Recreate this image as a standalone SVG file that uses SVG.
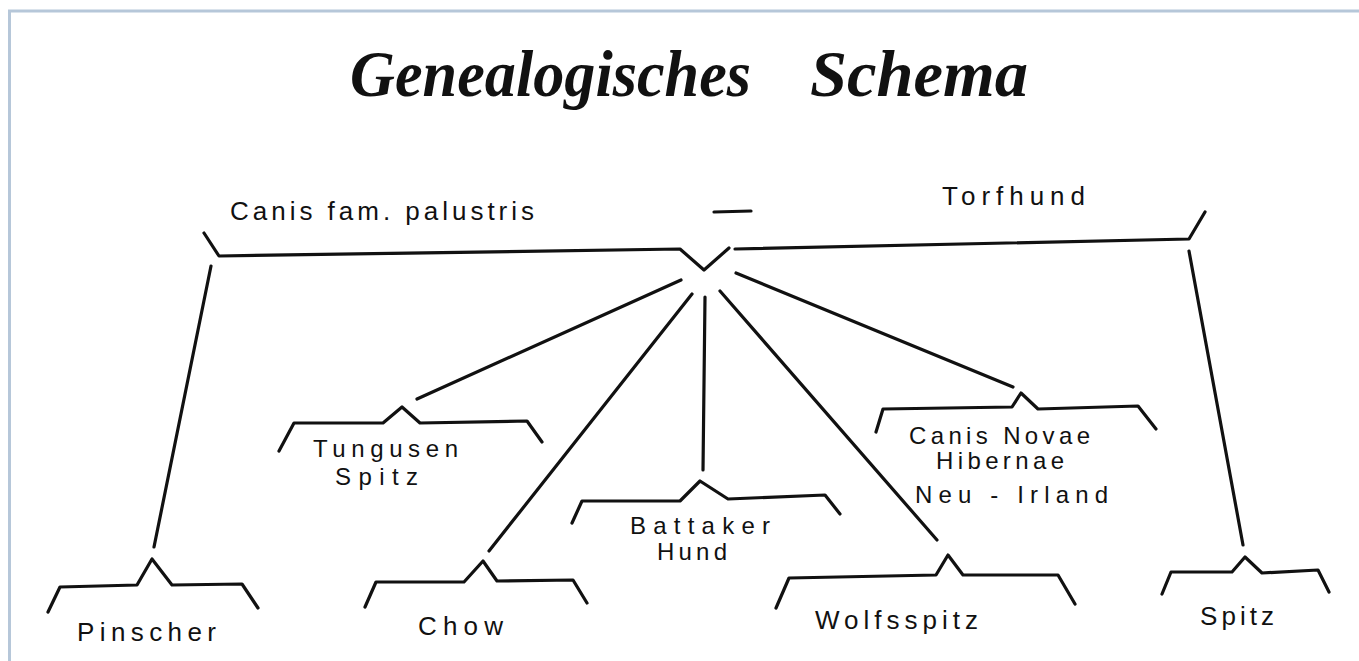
<svg xmlns="http://www.w3.org/2000/svg" width="1359" height="661" viewBox="0 0 1359 661">
<style>
.bg{fill:#ffffff}
.frame{fill:none;stroke:#b6c7d9;stroke-width:3}
.ln{fill:none;stroke:#111;stroke-width:3.2;stroke-linecap:round;stroke-linejoin:round}
.lbl{font-family:"Liberation Sans",Arial,sans-serif;font-size:26px;fill:#111}
.sm{font-size:24px}
.title{font-family:"Liberation Serif","Times New Roman",serif;font-weight:bold;font-style:italic;font-size:66px;fill:#111}
</style>
<rect class="bg" x="0" y="0" width="1359" height="661"/>
<path class="frame" d="M9.5,661 V11 H1359"/>
<g id="title">
<text class="title" x="350" y="96" textLength="401" lengthAdjust="spacingAndGlyphs">Genealogisches</text>
<text class="title" x="810" y="96" textLength="218" lengthAdjust="spacingAndGlyphs">Schema</text>
</g>
<g id="root">
<text class="lbl" x="230" y="220" textLength="304" lengthAdjust="spacing">Canis fam. palustris</text>
<line class="ln" x1="714" y1="212" x2="751" y2="211"/>
<text class="lbl" x="942" y="205" textLength="143" lengthAdjust="spacing">Torfhund</text>
<path class="ln" d="M204,233 L219,256 L680,249 L704,270 L729,248"/>
<path class="ln" d="M735,249 L1189,239 L1205,212"/>
</g>
<g id="connectors">
<line class="ln" x1="211" y1="266" x2="154" y2="547"/>
<line class="ln" x1="1189" y1="251" x2="1243" y2="545"/>
<line class="ln" x1="681" y1="280" x2="417" y2="399"/>
<line class="ln" x1="692" y1="294" x2="489" y2="551"/>
<line class="ln" x1="705" y1="297" x2="703" y2="470"/>
<line class="ln" x1="720" y1="291" x2="937" y2="540"/>
<line class="ln" x1="736" y1="273" x2="1013" y2="387"/>
</g>
<g id="tungusen">
<path class="ln" d="M279,451 L294,423 L383,423 L402,407 L420,423 L527,421 L542,442"/>
<text class="lbl sm" x="313" y="457" textLength="145" lengthAdjust="spacing">Tungusen</text>
<text class="lbl sm" x="335" y="485" textLength="83" lengthAdjust="spacing">Spitz</text>
</g>
<g id="battaker">
<path class="ln" d="M572,523 L582,501 L680,501 L700,481 L728,499 L825,495 L840,514"/>
<text class="lbl sm" x="630" y="534" textLength="140" lengthAdjust="spacing">Battaker</text>
<text class="lbl sm" x="657" y="560" textLength="70" lengthAdjust="spacing">Hund</text>
</g>
<g id="canis-novae">
<path class="ln" d="M876,432 L883,409 L1012,407 L1021,393 L1038,409 L1138,406 L1156,429"/>
<text class="lbl sm" x="909" y="444" textLength="181" lengthAdjust="spacing">Canis Novae</text>
<text class="lbl sm" x="936" y="469" textLength="128" lengthAdjust="spacing">Hibernae</text>
<text class="lbl sm" x="915" y="503" textLength="193" lengthAdjust="spacing">Neu - Irland</text>
</g>
<g id="pinscher">
<path class="ln" d="M48,612 L60,587 L137,585 L152,559 L172,585 L242,584 L258,608"/>
<text class="lbl" x="77" y="641" textLength="139" lengthAdjust="spacing">Pinscher</text>
</g>
<g id="chow">
<path class="ln" d="M365,607 L376,582 L464,582 L483,561 L497,581 L573,580 L587,603"/>
<text class="lbl" x="418" y="635" textLength="85" lengthAdjust="spacing">Chow</text>
</g>
<g id="wolfsspitz">
<path class="ln" d="M776,608 L789,578 L936,575 L948,555 L963,575 L1058,575 L1075,604"/>
<text class="lbl" x="815" y="629" textLength="163" lengthAdjust="spacing">Wolfsspitz</text>
</g>
<g id="spitz">
<path class="ln" d="M1162,594 L1171,572 L1232,572 L1245,557 L1262,573 L1318,570 L1329,592"/>
<text class="lbl" x="1200" y="625" textLength="74" lengthAdjust="spacing">Spitz</text>
</g>
</svg>
